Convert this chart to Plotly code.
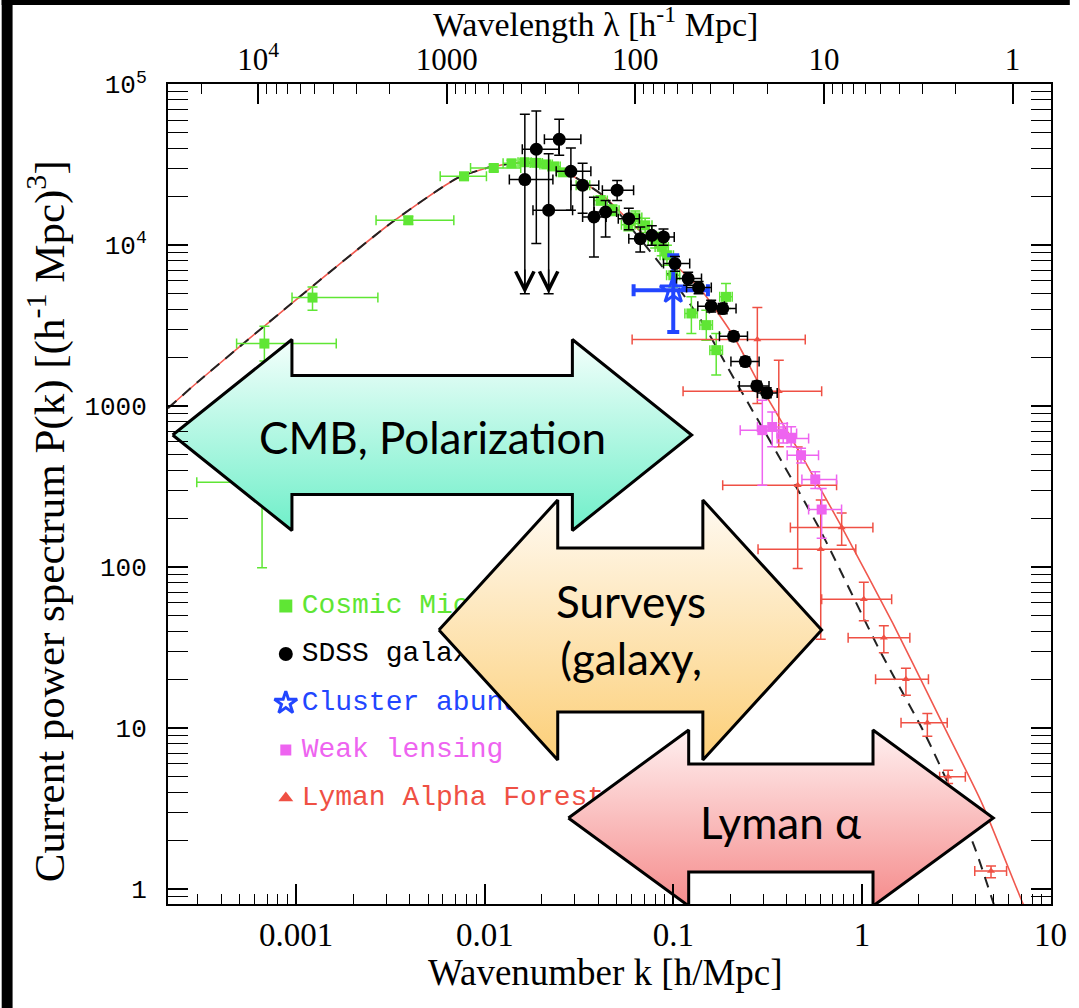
import math
import plotly.graph_objects as go

# ---------------- figure geometry (pixels) ----------------
W, H = 1079, 1008
L, R, T, B = 168, 1060, 84, 904

# ---------------- model curves ----------------
nonlin_k = [2.09e-4, 3.08e-4, 9.47e-4, 3.17e-3, 7.13e-3, 0.0106, 0.016, 0.0239, 0.042, 0.0556,
            0.1, 0.1406, 0.2085, 0.278, 0.475, 0.78, 1.455, 2.57, 4.32, 7.0, 8.0]
nonlin_P = [972, 1450, 4360, 13700, 26100, 30500, 32800, 30500, 20500, 15000,
            7730, 5250, 2720, 1450, 500, 178, 44.9, 11.7, 3.42, 0.855, 0.6]
lin_k = [2.09e-4, 3.08e-4, 9.47e-4, 3.17e-3, 7.13e-3, 0.0106, 0.016, 0.0239, 0.042, 0.0628,
         0.1, 0.1406, 0.2023, 0.355, 0.6, 1.239, 2.175, 3.0, 4.0, 5.3]
lin_P = [972, 1450, 4360, 13700, 26100, 30500, 32800, 30500, 20500, 11900,
         6000, 3400, 1596, 508, 170, 30.5, 9.0, 4.0, 1.75, 0.65]

# ---------------- Cosmic Microwave Background ----------------
cmb_k = [6.59e-4, 6.78e-4, 1.22e-3, 3.93e-3, 7.76e-3, 0.01115, 0.01386, 0.01623, 0.01875, 0.02115,
         0.0233, 0.026, 0.0331, 0.0411, 0.0475, 0.0577, 0.0628, 0.0708, 0.080, 0.0867,
         0.0924, 0.0998, 0.1245, 0.1494, 0.1686, 0.19]
cmb_P = [337, 2450, 4730, 14290, 26800, 30200, 32300, 32800, 32500, 31800,
         30900, 28400, 23600, 19000, 16500, 13400, 14900, 13300, 10730, 9770,
         8670, 6510, 3770, 3190, 2230, 4780]
cmb_k_lo = [2.97e-4, 4.83e-4, 9.5e-4, 2.65e-3, 5.8e-3, 0.0084, 0.0125, 0.0150, 0.0174, 0.0196,
            0.0216, 0.0240, 0.0305, 0.0378, 0.0437, 0.0530, 0.0580, 0.0650, 0.0735, 0.080,
            0.085, 0.092, 0.115, 0.138, 0.156, 0.176]
cmb_k_hi = [1.48e-3, 1.63e-3, 2.71e-3, 6.85e-3, 1.02e-2, 0.0155, 0.0154, 0.0176, 0.0202, 0.0228,
            0.0251, 0.0282, 0.0360, 0.0446, 0.0515, 0.0625, 0.0680, 0.0770, 0.087, 0.094,
            0.100, 0.108, 0.134, 0.161, 0.182, 0.205]
cmb_P_lo = [99, 1910, 3950, 13500, 25400, 28800, 31000, 31500, 31200, 30500,
            29500, 27000, 22300, 17800, 15300, 12300, 13600, 12000, 9600, 8600,
            7500, 5500, 2830, 2570, 1560, 4050]
cmb_P_hi = [1150, 3140, 5510, 15100, 28300, 31700, 33700, 34200, 33900, 33200,
            32300, 29800, 25000, 20300, 17800, 14600, 16300, 14700, 12000, 11100,
            10000, 7700, 4780, 3950, 2830, 5780]

# ---------------- SDSS galaxies ----------------
sdss_k = [0.0163, 0.01875, 0.0248, 0.0218, 0.0286, 0.033, 0.0379, 0.0437, 0.0503, 0.058,
          0.0667, 0.0768, 0.0886, 0.1019, 0.1197, 0.136, 0.1585, 0.1825, 0.2085, 0.2404,
          0.2767, 0.3126]
sdss_P = [25600, 39500, 45500, 16500, 28800, 23600, 15000, 16100, 22000, 14630,
          10990, 11530, 11270, 7690, 6210, 5460, 4180, 4040, 2720, 1895,
          1337, 1210]
sdss_k_lo = [0.01349, 0.0158, 0.0207, 0.018, 0.0239, 0.0286, 0.033, 0.038, 0.042, 0.051,
             0.058, 0.067, 0.077, 0.0886, 0.1039, 0.1174, 0.1347, 0.1551, 0.1754, 0.2018,
             0.2236, 0.279]
sdss_k_hi = [0.02296, 0.0247, 0.0323, 0.0292, 0.0365, 0.0402, 0.044, 0.050, 0.0615, 0.066,
             0.077, 0.088, 0.101, 0.122, 0.1409, 0.1588, 0.1863, 0.2148, 0.247, 0.2846,
             0.3212, 0.355]
sdss_P_lo = [5000, 10240, 36200, 5000, 16500, 15800, 8460, 11270, 19000, 12500,
             9080, 10000, 10000, 6900, 5650, 5000, 3850, 3750, 2550, 1780,
             1250, 1130]
sdss_P_hi = [65100, 68300, 60600, 37100, 40200, 32300, 19900, 19000, 25300, 17000,
             12970, 13200, 12600, 8500, 6800, 5950, 4550, 4350, 2900, 2020,
             1430, 1300]
sdss_upper_limit = [True, False, False, True, False, False, False, False, False, False,
                    False, False, False, False, False, False, False, False, False, False,
                    False, False]

# ---------------- Cluster abundance ----------------
clus_k = [0.0998]
clus_P = [5250]
clus_k_lo = [0.0615]
clus_k_hi = [0.1524]
clus_P_lo = [2890]
clus_P_hi = [8670]

# ---------------- Weak lensing ----------------
wl_k = [0.296, 0.334, 0.382, 0.421, 0.475, 0.565, 0.611]
wl_P = [710, 743, 677, 630, 496, 351, 228]
wl_k_lo = [0.226, 0.279, 0.354, 0.355, 0.401, 0.480, 0.521]
wl_k_hi = [0.385, 0.401, 0.450, 0.521, 0.588, 0.733, 0.779]
wl_P_lo = [323, 559, 590, 559, 443, 308, 151]
wl_P_hi = [1090, 922, 780, 745, 548, 391, 308]

# ---------------- Lyman Alpha Forest ----------------
lya_k = [0.2786, 0.362, 0.456, 0.78, 0.604, 1.022, 1.305, 1.709, 2.22, 2.86, 4.83]
lya_P = [2596, 1240, 323, 176.5, 129, 63.2, 36.4, 20.1, 10.8, 4.98, 1.293]
lya_k_lo = [0.0604, 0.1125, 0.1825, 0.417, 0.281, 0.611, 0.844, 1.18, 1.61, 2.58, 3.96]
lya_k_hi = [0.5, 0.611, 0.733, 1.142, 0.927, 1.436, 1.793, 2.25, 2.83, 3.53, 5.84]
lya_P_lo = [1040, 559, 98, 137, 35.6, 46.4, 29.4, 16.0, 8.9, 4.53, 1.175]
lya_P_hi = [4100, 1930, 558, 217, 261, 80.7, 43.2, 23.5, 12.3, 5.48, 1.39]

# ---------------- ticks & labels ----------------
k_ticks = [0.001, 0.01, 0.1, 1, 10]
k_ticktext = ["0.001", "0.01", "0.1", "1", "10"]
lam_ticks = [1e4, 1000, 100, 10, 1]
lam_ticktext = ["10<sup>4</sup>", "1000", "100", "10", "1"]
P_ticks = [1, 10, 100, 1000, 1e4, 1e5]
P_ticktext = ["1", "10", "100", "1000", "10<sup>4</sup>", "10<sup>5</sup>"]
legend_labels = ["Cosmic Microwave Background", "SDSS galaxies", "Cluster abundance",
                 "Weak lensing", "Lyman Alpha Forest"]
arrow_labels = ["CMB, Polarization", "Surveys<br>(galaxy,", "Lyman α"]

# ---------------- colours ----------------
GREEN = "#5fe634"
BLACK = "#000000"
BLUE = "#2246ff"
MAGENTA = "#ee64f0"
RED = "#ef5044"
CURVE_RED = "#f0584e"

SERIF = "Liberation Serif, Times New Roman, serif"
MONO = "Liberation Mono, Courier New, monospace"
SANS = "Lato, Open Sans, sans-serif"


def errs(v, lo, hi):
    return [h - x for x, h in zip(v, hi)], [x - l for x, l in zip(v, lo)]


fig = go.Figure()

# model curves
fig.add_trace(go.Scatter(x=nonlin_k, y=nonlin_P, mode="lines",
                         line=dict(color=CURVE_RED, width=1.6, shape="spline", smoothing=0.6),
                         hoverinfo="skip", showlegend=False))
fig.add_trace(go.Scatter(x=lin_k, y=lin_P, mode="lines",
                         line=dict(color="#222222", width=2, dash="11px,8px", shape="spline", smoothing=0.6),
                         hoverinfo="skip", showlegend=False))


def data_trace(k, P, klo, khi, Plo, Phi, color, symbol, size, ethick=1.5, ewidth=5, mline=None):
    ex_p, ex_m = errs(k, klo, khi)
    ey_p, ey_m = errs(P, Plo, Phi)
    marker = dict(color=color, symbol=symbol, size=size)
    if mline:
        marker["line"] = mline
    return go.Scatter(
        x=k, y=P, mode="markers", marker=marker, showlegend=False, hoverinfo="skip",
        error_x=dict(type="data", symmetric=False, array=ex_p, arrayminus=ex_m,
                     color=color, thickness=ethick, width=ewidth),
        error_y=dict(type="data", symmetric=False, array=ey_p, arrayminus=ey_m,
                     color=color, thickness=ethick, width=ewidth))


fig.add_trace(data_trace(cmb_k, cmb_P, cmb_k_lo, cmb_k_hi, cmb_P_lo, cmb_P_hi, GREEN, "square", 10))
fig.add_trace(data_trace(lya_k, lya_P, lya_k_lo, lya_k_hi, lya_P_lo, lya_P_hi, RED, "triangle-up", 7))
fig.add_trace(data_trace(wl_k, wl_P, wl_k_lo, wl_k_hi, wl_P_lo, wl_P_hi, MAGENTA, "square", 10))
fig.add_trace(data_trace(clus_k, clus_P, clus_k_lo, clus_k_hi, clus_P_lo, clus_P_hi, BLUE, "star-open", 20,
                         ethick=4, ewidth=6, mline=dict(color=BLUE, width=3)))
fig.add_trace(data_trace(sdss_k, sdss_P, sdss_k_lo, sdss_k_hi, sdss_P_lo, sdss_P_hi, BLACK, "circle", 13))

# upper-limit arrowheads for SDSS
for k, plo, ul in zip(sdss_k, sdss_P_lo, sdss_upper_limit):
    if ul:
        fig.add_annotation(x=math.log10(k), y=math.log10(plo), xref="x", yref="y",
                           ax=math.log10(k), ay=math.log10(plo) + 0.16, axref="x", ayref="y",
                           text="", showarrow=True, arrowhead=5, arrowsize=2.4, arrowwidth=1.5,
                           arrowcolor=BLACK, standoff=0)

# dummy trace to activate top wavelength axis
fig.add_trace(go.Scatter(x=[1e-3, 1], y=[10, 10], xaxis="x2", yaxis="y", mode="markers",
                         marker=dict(opacity=0), hoverinfo="skip", showlegend=False))


# ---------------- pixel overlay (legend + arrows) ----------------
def Y(p):
    return H - p


leg_x_marker = 287
leg_x_text = 303
leg_y = [606, 654, 703, 750, 798]
leg_style = [
    (GREEN, "square", 13, None),
    (BLACK, "circle", 14, None),
    (BLUE, "star-open", 17, dict(color=BLUE, width=3)),
    (MAGENTA, "square", 11, None),
    (RED, "triangle-up", 13, None),
]
for lab, yy, (col, sym, sz, ml) in zip(legend_labels, leg_y, leg_style):
    mk = dict(color=col, symbol=sym, size=sz)
    if ml:
        mk["line"] = ml
    fig.add_trace(go.Scatter(x=[leg_x_marker], y=[Y(yy)], xaxis="x3", yaxis="y3", mode="markers",
                             marker=mk, hoverinfo="skip", showlegend=False))
    fig.add_trace(go.Scatter(x=[leg_x_text], y=[Y(yy)], xaxis="x3", yaxis="y3", mode="text",
                             text=[lab], textposition="middle right",
                             textfont=dict(family=MONO, size=28, color=col),
                             hoverinfo="skip", showlegend=False))


def double_arrow(x0, x1, yc, head_half, shaft_half, head_len):
    pts = [(x0, yc), (x0 + head_len, yc - head_half), (x0 + head_len, yc - shaft_half),
           (x1 - head_len, yc - shaft_half), (x1 - head_len, yc - head_half), (x1, yc),
           (x1 - head_len, yc + head_half), (x1 - head_len, yc + shaft_half),
           (x0 + head_len, yc + shaft_half), (x0 + head_len, yc + head_half), (x0, yc)]
    return [p[0] for p in pts], [Y(p[1]) for p in pts]


arrows = [
    # x0, x1, yc, head_half, shaft_half, head_len, top colour, bottom colour, text pos
    (172.7, 697, 435, 95.5, 59.5, 120.5, "#f4fffc", "#6fefc9", (435, 437)),
    (441.7, 828.3, 630, 130, 82, 120, "#fffaf2", "#fccf78", (636, 629)),
    (572.5, 1001.7, 818, 88, 54, 121.5, "#fff0f0", "#f58c8c", (787, 822)),
]
for (x0, x1, yc, hh, sh, hl, ctop, cbot, tpos), lab in zip(arrows, arrow_labels):
    xs, ys = double_arrow(x0, x1, yc, hh, sh, hl)
    fig.add_trace(go.Scatter(
        x=xs, y=ys, xaxis="x3", yaxis="y3", mode="lines", fill="toself",
        line=dict(color="black", width=3),
        fillgradient=dict(type="vertical", start=Y(yc + hh), stop=Y(yc - hh),
                          colorscale=[[0, cbot], [1, ctop]]),
        hoverinfo="skip", showlegend=False))
    fig.add_annotation(x=tpos[0], y=Y(tpos[1]), xref="x3", yref="y3", text=lab, showarrow=False,
                       font=dict(family=SANS, size=44, color="black"), align="center",
                       xanchor="center", yanchor="middle")

# ---------------- axis helpers ----------------
minor_k = [d * 10 ** n for n in range(-4, 1) for d in range(2, 10)]
minor_lam = [2 * math.pi / (d * 10 ** n) for n in range(0, 5) for d in range(2, 10)]
minor_P = [d * 10 ** n for n in range(-1, 5) for d in range(2, 10)]


def px_x(p):
    return (p - L) / (R - L)


def px_y(p):
    return (B - p) / (B - T)


xrange = [math.log10(2.09e-4), 1.002]
yrange = [-0.093, 5.002]

fig.update_layout(
    width=W, height=H, autosize=False,
    margin=dict(l=L, r=W - R, t=T, b=H - B, pad=0),
    paper_bgcolor="white", plot_bgcolor="white",
    showlegend=False,
    xaxis=dict(type="log", range=xrange, tickmode="array", tickvals=k_ticks, ticktext=k_ticktext,
               ticks="inside", ticklen=20, tickwidth=1.5, tickcolor="black",
               showline=True, linewidth=2, linecolor="black", mirror=False,
               showgrid=False, zeroline=False,
               tickfont=dict(family=SERIF, size=33, color="black"), ticklabelstandoff=0,
               minor=dict(tickmode="array", tickvals=minor_k, ticks="inside", ticklen=10,
                          tickwidth=1.2, tickcolor="black", showgrid=False)),
    xaxis2=dict(type="log", range=xrange, overlaying="x", side="top", anchor="y",
                tickmode="array", tickvals=[2 * math.pi / v for v in lam_ticks], ticktext=lam_ticktext,
                ticks="inside", ticklen=20, tickwidth=1.5, tickcolor="black",
                showline=True, linewidth=2, linecolor="black",
                showgrid=False, zeroline=False,
                tickfont=dict(family=SERIF, size=31, color="black"), ticklabelstandoff=0,
                minor=dict(tickmode="array", tickvals=minor_lam, ticks="inside", ticklen=10,
                           tickwidth=1.2, tickcolor="black", showgrid=False)),
    yaxis=dict(type="log", range=yrange, tickmode="array", tickvals=P_ticks, ticktext=P_ticktext,
               ticks="inside", ticklen=20, tickwidth=1.5, tickcolor="black",
               showline=True, linewidth=2, linecolor="black", mirror="allticks",
               showgrid=False, zeroline=False,
               tickfont=dict(family=MONO, size=26, color="black"), ticklabelstandoff=14,
               minor=dict(tickmode="array", tickvals=minor_P, ticks="inside", ticklen=10,
                          tickwidth=1.2, tickcolor="black", showgrid=False)),
    xaxis3=dict(overlaying="x", anchor="y3", range=[L, R], visible=False, showgrid=False, zeroline=False),
    yaxis3=dict(overlaying="y", anchor="x3", range=[H - B, H - T], visible=False, showgrid=False, zeroline=False),
)

# axis titles
fig.add_annotation(x=px_x(610), y=px_y(972), xref="paper", yref="paper", showarrow=False,
                   xanchor="center", yanchor="middle",
                   text="Wavenumber k [h/Mpc]", font=dict(family=SERIF, size=37, color="black"))
fig.add_annotation(x=px_x(600), y=px_y(22), xref="paper", yref="paper", showarrow=False,
                   xanchor="center", yanchor="middle",
                   text="Wavelength λ [h<sup>-1</sup> Mpc]", font=dict(family=SERIF, size=34, color="black"))
fig.add_annotation(x=px_x(45), y=px_y(521), xref="paper", yref="paper", showarrow=False, textangle=-90,
                   xanchor="center", yanchor="middle",
                   text="Current power spectrum P(k) [(h<sup>-1</sup> Mpc)<sup>3</sup>]",
                   font=dict(family=SERIF, size=43, color="black"))

# black border strips of the slide
fig.add_shape(type="rect", xref="paper", yref="paper", x0=px_x(0), x1=px_x(11), y0=px_y(H), y1=px_y(0),
              fillcolor="black", line=dict(width=0), layer="above")
fig.add_shape(type="rect", xref="paper", yref="paper", x0=px_x(0), x1=px_x(W), y0=px_y(5), y1=px_y(0),
              fillcolor="black", line=dict(width=0), layer="above")

fig.write_html("out.html",
               post_script="document.body.style.margin='0';document.body.style.overflow='hidden';"
                           "document.body.style.background='white';")
